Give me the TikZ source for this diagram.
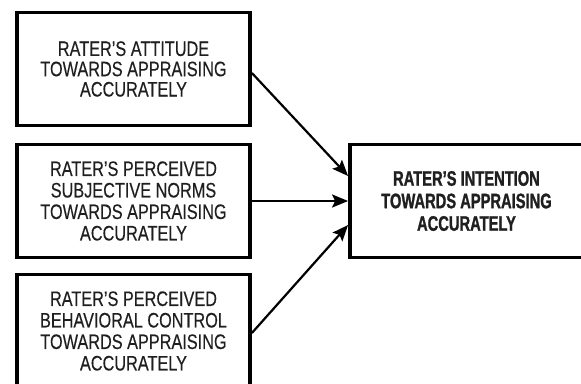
\documentclass[tikz,border=0pt]{standalone}
\usepackage{fontspec}
\setmainfont{Liberation Sans}[FakeStretch=0.775, FakeBold=0.3]
\newfontfamily\headfont{Liberation Sans}[FakeStretch=0.7, BoldFeatures={FakeBold=1.2}]
\usetikzlibrary{arrows.meta}
\newcommand{\dropgap}[1]{\rule{0pt}{#1}}
\tikzset{
  factor/.style={draw, line width=3.8pt, minimum width=233pt, minimum height=113pt,
    align=center, inner sep=0pt, text=black!88, font=\fontsize{21}{21.5}\selectfont,
    execute at begin node={\dropgap{24pt}}},
  outcome/.style={factor, font=\headfont\bfseries\fontsize{21}{22.5}\selectfont,
    execute at begin node={\dropgap{19pt}}},
  link/.style={line width=2.2pt, -{Stealth[length=16pt,width=13pt,inset=3pt]}}
}
\begin{document}
\begin{tikzpicture}[x=1pt,y=-1pt]
\useasboundingbox (0,0) rectangle (581,383);
% three antecedents on the left
\node[factor, font=\fontsize{21}{20.3}\selectfont] (attitude) at (133.5,69) {RATER’S ATTITUDE\\TOWARDS APPRAISING\\ACCURATELY};
\node[factor] (norms) at (133.5,201) {RATER’S PERCEIVED\\SUBJECTIVE NORMS\\TOWARDS APPRAISING\\ACCURATELY};
\node[factor] (control) at (133.5,331) {RATER’S PERCEIVED\\BEHAVIORAL CONTROL\\TOWARDS APPRAISING\\ACCURATELY};
% intention on the right
\node[outcome] (intention) at (466.5,201) {RATER’S INTENTION\\TOWARDS APPRAISING\\ACCURATELY};
\draw[link] ([yshift=-4pt]attitude.east) -- ([yshift=25pt]intention.west);
\draw[link] (norms.east) -- (intention.west);
\draw[link] ([yshift=-2pt]control.east) -- ([yshift=-24pt]intention.west);
\end{tikzpicture}
\end{document}
